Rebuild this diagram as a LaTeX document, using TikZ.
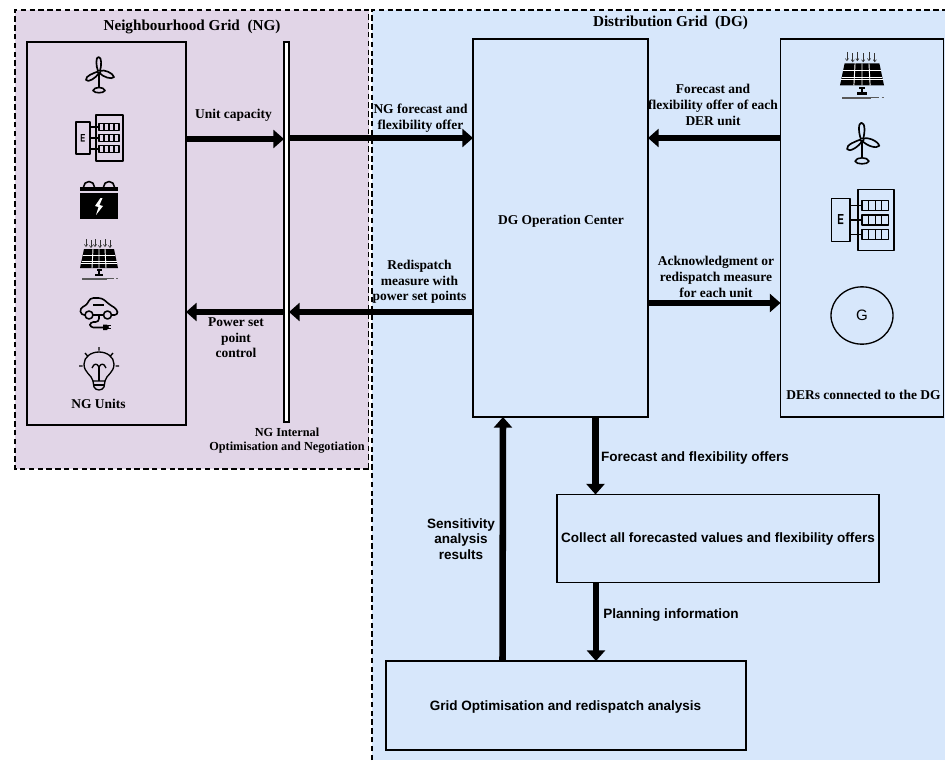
\documentclass[tikz,border=0pt]{standalone}
\usepackage{fontspec}
\setmainfont{Liberation Serif}
\setsansfont{Liberation Sans}
\usetikzlibrary{arrows.meta,calc,shapes.geometric}
\definecolor{ngfill}{HTML}{E1D5E7}
\definecolor{dgfill}{HTML}{D7E7FB}
\tikzset{
  x=0.75pt,y=-0.75pt,
  region/.style={draw=black,dash pattern=on 4pt off 2.6pt,line width=0.85pt},
  boxn/.style={draw=black,line width=1.2pt,anchor=north west,inner sep=0pt,outer sep=0pt},
  flow/.style={line width=4.9pt,-{Triangle[length=8pt,width=13.5pt]}},
  lab/.style={font=\bfseries\fontsize{10.1pt}{11.7pt}\selectfont,align=center,inner sep=0pt},
  smalllab/.style={font=\bfseries\fontsize{9.2pt}{10.5pt}\selectfont,align=center,inner sep=0pt},
  title/.style={font=\bfseries\fontsize{11.4pt}{13pt}\selectfont,align=center,inner sep=0pt},
  sanslab/.style={font=\sffamily\bfseries\fontsize{10.15pt}{11.6pt}\selectfont,align=center,inner sep=0pt},
  ic/.style={line width=1pt,draw=black,line join=round},
}
\newcommand{\iconwind}[3][1]{\begin{scope}[shift={(#2,#3)},scale=#1]
  \draw[ic,line width=1.25pt] (0,0) -- (0,16);
  \draw[ic,line width=1.25pt] (-1,-1) .. controls (-3,-6) and (-3.5,-15) .. (-.5,-15) .. controls (3,-15) and (2.5,-6) .. (1,-1);
  \draw[ic,line width=1.25pt] (-1,-.5) .. controls (-5,1) and (-14,4) .. (-13,8) .. controls (-11,11) and (-3,6) .. (0,1);
  \draw[ic,line width=1.25pt] (1,-1) .. controls (5,-3) and (14,1) .. (15,5) .. controls (13,8) and (4,5) .. (0.5,1);
  \draw[ic,line width=.9pt] (0,0) circle (1.7);
  \draw[ic,line width=1.2pt] (-6,18.5) .. controls (-5,14.5) and (5,14.5) .. (6,18.5) .. controls (5,21.5) and (-5,21.5) .. (-6,18.5) -- cycle;
\end{scope}}
\newcommand{\iconpanel}[3][1]{\begin{scope}[shift={(#2,#3)},scale=#1]
  \draw[ic] (-23,-16) rectangle (-9,16);
  \draw[ic] (-3,-23) rectangle (24,23);
  \foreach \yy in {-11,0,11}{
    \draw[ic] (-9,\yy) -- (0,\yy);
    \draw[ic] (0,\yy-3.7) rectangle (20,\yy+3.7);
    \draw[ic,line width=.8pt] (5,\yy-3.7) -- (5,\yy+3.7) (10,\yy-3.7) -- (10,\yy+3.7) (15,\yy-3.7) -- (15,\yy+3.7);
  }
  \node[font=\sffamily\bfseries\fontsize{7.5pt}{8pt}\selectfont,inner sep=0pt,transform shape,yscale=-1] at (-16,0) {\scalebox{.75}[1.1]{E}};
\end{scope}}
\newcommand{\iconbatt}[2]{\begin{scope}[shift={(#1,#2)}]
  \fill (-19,-13) rectangle (19,-9);
  \fill (-19,-7) rectangle (19,19);
  \draw[ic,line width=1.2pt] (-15.5,-13) arc (180:360:5.5);
  \draw[ic,line width=1.2pt] (4.5,-13) arc (180:360:5.5);
  \fill[white] (1.5,-2) -- (-4,6) -- (-.5,7) -- (-3,15) -- (4,6) -- (.5,5) -- (3.5,-2) -- cycle;
\end{scope}}
\newcommand{\iconsolar}[3][1]{\begin{scope}[shift={(#2,#3)},scale=#1]
  \fill (-15,-16) -- (15,-16) -- (19,3) -- (-19,3) -- cycle;
  \draw[white,line width=.7pt] (-16.2,-10) -- (16.2,-10) (-17.5,-4) -- (17.5,-4) (-18,-2) -- (18,-2);
  \draw[white,line width=.7pt] (-6,-16) -- (-7,3) (0,-16)--(0,3) (6,-16)--(7,3);
  \fill (-2.5,4) rectangle (2.5,6); \fill (-1,6) rectangle (1,9); \fill (-4,9) rectangle (4,11);
  \draw[gray!70!black,line width=.6pt] (-17,13) -- (15,13) (-17,14.5) -- (8,14.5);
  \draw[black!60,line width=.5pt] (17,13) -- (19,13);
  \foreach \xx/\yy in {-13/-26,-8/-25,-4/-26,1/-25,6/-26,11/-25}{
    \draw[black!80,line width=.45pt,-{Straight Barb[length=1.6pt,width=2.4pt]}] (\xx,\yy) -- (\xx,\yy+8);
  }
\end{scope}}
\newcommand{\iconcar}[2]{\begin{scope}[shift={(#1,#2)}]
  \draw[ic,line width=1.2pt,rounded corners=2.5pt] (-14,1) -- (-18,1) -- (-19,-6) -- (-12,-9) -- (-9,-16) -- (3,-16) -- (11,-9) -- (18,-5) -- (19,1) -- (12.5,1);
  \draw[ic,line width=1.2pt] (-6,-9) -- (5,-9);
  \draw[ic,line width=1.2pt] (-6,1) -- (4.5,1);
  \draw[ic,line width=1.2pt] (-10,1) circle (4);
  \draw[ic,line width=1.2pt] (8.5,1) circle (4);
  \draw[ic,line width=1.2pt,rounded corners=2.5pt] (0,1) -- (0,8) -- (-9,8) -- (-9,13.5) -- (4,13.5);
  \fill (4,10.5) -- (8,10.5) -- (10,13) -- (8,16) -- (4,16) -- cycle;
  \draw[ic,line width=.9pt] (9,11.5) -- (12,11.5) (9,14.5) -- (12,14.5);
\end{scope}}
\newcommand{\iconbulb}[2]{\begin{scope}[shift={(#1,#2)}]
  \draw[ic] (-6,15) .. controls (-7,9) and (-15,7) .. (-15,-2) .. controls (-15,-9) and (-8,-14) .. (0,-14) .. controls (8,-14) and (15,-9) .. (15,-2) .. controls (15,7) and (7,9) .. (6,15) -- cycle;
  \draw[ic] (-6,15) -- (-5,21) .. controls (-3,25) and (3,25) .. (5,21) -- (6,15);
  \draw[ic] (-5,19) -- (5,19);
  \draw[ic] (0,15) -- (0,0);
  \draw[ic] (-7,2) .. controls (-5,-3) and (-2,-3) .. (0,1) .. controls (2,-3) and (5,-3) .. (7,2);
  \draw[ic] (0,-19) -- (0,-15.5) (-14,-13) -- (-11,-9.5) (14,-13) -- (11,-9.5) (-20,0) -- (-16.5,0) (20,0) -- (16.5,0);
\end{scope}}
\begin{document}
\begin{tikzpicture}
\useasboundingbox (0,0) rectangle (945,760);
\fill[white] (0,0) rectangle (945,760);
% regions
\fill[ngfill] (15,10) rectangle (368.5,469);
\fill[dgfill] (372,10) rectangle (945,760);
\draw[region] (368.5,469) -- (15,469) -- (15,10) -- (368.5,10) -- cycle;
\draw[region] (372,760) -- (372,10) -- (945,10);
% boxes
\node[boxn,minimum width=119.25pt,minimum height=287.25pt] (ngu) at (27,42) {};
\node[boxn,fill=white,minimum width=3.75pt,minimum height=285pt,line width=.9pt] (bar) at (284,42) {};
\node[boxn,minimum width=131.25pt,minimum height=283.5pt] (op) at (473,39) {};
\node[boxn,minimum width=122.25pt,minimum height=283.5pt] (der) at (780.5,39) {};
\node[boxn,minimum width=241.5pt,minimum height=66pt] (col) at (557,494.5) {};
\node[boxn,minimum width=270pt,minimum height=66.75pt] (gri) at (386,661) {};
% box texts
\node[title] at (192,26.5) {Neighbourhood Grid\ \ (NG)};
\node[title] at (670.5,22.5) {Distribution Grid\ \ (DG)};
\node[lab] at (98.5,404) {NG Units};
\node[smalllab] at (287,441) {NG Internal\\Optimisation and Negotiation};
\node[lab] at (561,221) {DG Operation Center};
\node[lab] at (863.5,395) {DERs connected to the DG};
\node[sanslab] at (718,539) {Collect all forecasted values and flexibility offers};
\node[sanslab] at (565.5,707) {Grid Optimisation and redispatch analysis};
% G
\node[draw=black,line width=1pt,ellipse,minimum width=46.5pt,minimum height=43pt,inner sep=0pt,font=\sffamily\fontsize{11.3pt}{13pt}\selectfont] (gen) at (862,315.5) {G};
% icons
\iconwind{99}{72}
\iconpanel{99}{138}
\iconbatt{99}{200}
\iconsolar{99}{265}
\iconcar{99}{314}
\iconbulb{99}{366}
\iconsolar[1.16]{862}{82}
\iconwind[1.15]{862}{140}
\iconpanel[1.33]{862}{220}
% arrows
\draw[flow] (ngu.east |- 0,139) -- (bar.west |- 0,139);
\draw[flow] (bar.east |- 0,138) -- (op.west |- 0,138);
\draw[flow] (der.west |- 0,138) -- (op.east |- 0,138);
\draw[flow] (op.west |- 0,312) -- (bar.east |- 0,312);
\draw[flow] (bar.west |- 0,312) -- (ngu.east |- 0,312);
\draw[flow] (op.east |- 0,303) -- (der.west |- 0,303);
\coordinate (opb) at (op.south -| 595.5,0);
\coordinate (colt) at (col.north -| 595.5,0);
\coordinate (colb) at (col.south -| 596,0);
\coordinate (grit) at (gri.north -| 596,0);
\coordinate (grit2) at (gri.north -| 502.5,0);
\coordinate (opb2) at (op.south -| 503,0);
\draw[flow] (opb) -- (colt);
\draw[flow] (colb) -- (grit);
\draw[flow] (grit2) -- (opb2);
% labels
\node[lab] at (233.5,115) {Unit capacity};
\node[lab] at (420.5,118) {NG forecast and\\flexibility offer};
\node[lab] at (713,105) {Forecast and\\flexibility offer of each\\DER unit};
\node[lab] at (419.5,282) {Redispatch\\measure with\\power set points};
\node[lab] at (236,338) {Power set\\point\\control};
\node[lab] at (716,277) {Acknowledgment or\\redispatch measure\\for each unit};
\node[sanslab] at (695,458) {Forecast and flexibility offers};
\node[sanslab] at (671,615) {Planning information};
\node[sanslab] at (461,539) {Sensitivity\\analysis\\results};
\end{tikzpicture}
\end{document}
